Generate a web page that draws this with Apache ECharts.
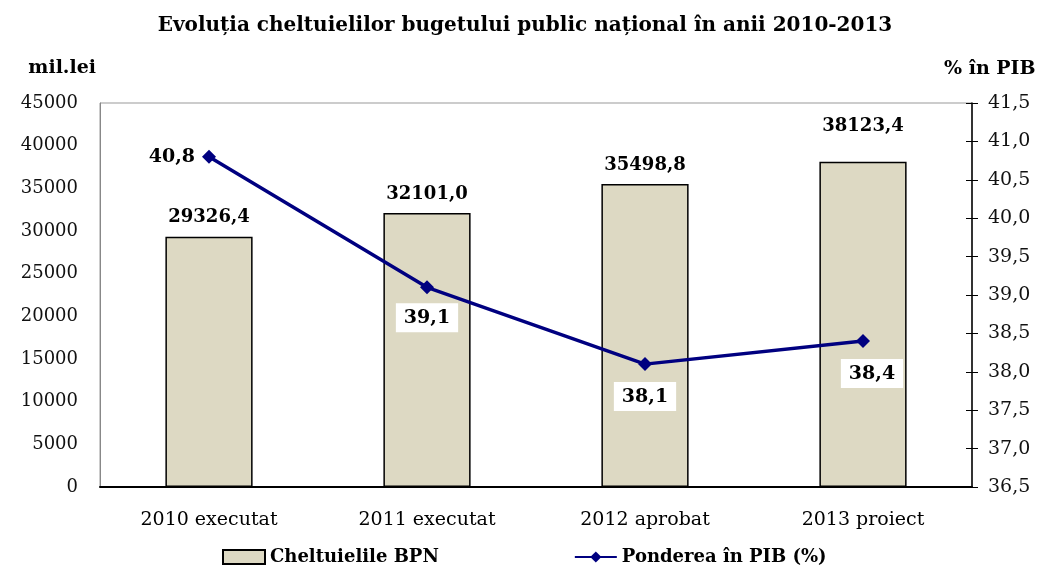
<!DOCTYPE html>
<html>
<head>
<meta charset="utf-8">
<script src="https://cdn.jsdelivr.net/npm/echarts@6/dist/echarts.min.js"></script>
<style>
html,body{margin:0;padding:0;background:#fff;}
#chart{width:1050px;height:568px;}
</style>
</head>
<body>
<div id="chart"></div>
<script>
var categories = ['2010 executat', '2011 executat', '2012 aprobat', '2013 proiect'];
var spending = [29326.4, 32101.0, 35498.8, 38123.4];
var gdpShare = [40.8, 39.1, 38.1, 38.4];
var leftTicks = {min: 0, max: 45000, interval: 5000};
var rightTicks = {min: 36.5, max: 41.5, interval: 0.5};

var serif = '"DejaVu Serif", "Liberation Serif", serif';
function comma(v, d) { return v.toFixed(d).replace('.', ','); }

var barData = spending.map(function (v, i) {
  var item = {value: v};
  if (i === 3) item.label = {offset: [0, -16]};
  return item;
});
var lineLabelPos = [
  {position: 'left', distance: 7, backgroundColor: 'transparent', padding: 0},
  {position: 'bottom', distance: 9},
  {position: 'bottom', distance: 11},
  {position: 'bottom', distance: 11, offset: [9, 0]}
];
var lineData = gdpShare.map(function (v, i) {
  return {value: v, label: lineLabelPos[i]};
});

var chart = echarts.init(document.getElementById('chart'));
chart.setOption({
  animation: false,
  title: {
    text: 'Evoluția cheltuielilor bugetului public național în anii 2010-2013',
    left: 'center', top: 11,
    textStyle: {fontFamily: serif, fontWeight: 'bold', fontSize: 20, color: '#000'}
  },
  grid: {left: 100, right: 78, top: 103, bottom: 81, show: true, borderColor: '#999', borderWidth: 1},
  legend: {
    left: 217, top: 543, itemGap: 135, itemWidth: 42, itemHeight: 14,
    textStyle: {fontFamily: serif, fontWeight: 'bold', fontSize: 18, color: '#000'},
    data: [
      {name: 'Cheltuielile BPN', icon: 'rect'},
      {name: 'Ponderea în PIB (%)'}
    ]
  },
  xAxis: {
    type: 'category', data: categories,
    axisLine: {lineStyle: {color: '#000', width: 2}},
    axisTick: {show: false},
    axisLabel: {fontFamily: serif, fontSize: 19, color: '#000', margin: 24}
  },
  yAxis: [
    {
      type: 'value', min: leftTicks.min, max: leftTicks.max, interval: leftTicks.interval,
      name: 'mil.lei', nameLocation: 'end', nameGap: 25,
      nameTextStyle: {fontFamily: serif, fontWeight: 'bold', fontSize: 19, color: '#000', align: 'right', padding: [0, 4, 0, 0]},
      axisLine: {show: true, lineStyle: {color: '#888', width: 1}},
      axisTick: {show: false},
      splitLine: {show: false},
      axisLabel: {fontFamily: serif, fontSize: 18, color: '#111', margin: 22,
        formatter: function (v) { return String(v); }}
    },
    {
      type: 'value', min: rightTicks.min, max: rightTicks.max, interval: rightTicks.interval,
      position: 'right',
      name: '% în PIB', nameLocation: 'end', nameGap: 24,
      nameTextStyle: {fontFamily: serif, fontWeight: 'bold', fontSize: 19, color: '#000', align: 'left', padding: [0, 0, 0, -28]},
      axisLine: {show: true, lineStyle: {color: '#000', width: 1.5}},
      axisTick: {show: true, inside: false, length: 6, lineStyle: {color: '#000'}},
      splitLine: {show: false},
      axisLabel: {fontFamily: serif, fontSize: 19, color: '#111', margin: 16,
        formatter: function (v) { return comma(v, 1); }}
    },
    {
      type: 'value', min: rightTicks.min, max: rightTicks.max, interval: rightTicks.interval,
      position: 'right',
      axisLine: {show: false},
      axisTick: {show: true, inside: true, length: 6, lineStyle: {color: '#000'}},
      axisLabel: {show: false},
      splitLine: {show: false}
    }
  ],
  series: [
    {
      name: 'Cheltuielile BPN', type: 'bar', yAxisIndex: 0, barWidth: '40%',
      data: barData,
      itemStyle: {color: '#DDD9C3', borderColor: '#000', borderWidth: 1.5},
      label: {show: true, position: 'top', distance: 10,
        fontFamily: serif, fontWeight: 'bold', fontSize: 18, color: '#000',
        formatter: function (p) { return comma(p.value, 1); }}
    },
    {
      name: 'Ponderea în PIB (%)', type: 'line', yAxisIndex: 1,
      data: lineData,
      symbol: 'diamond', symbolSize: 14,
      lineStyle: {color: '#000080', width: 3.5},
      itemStyle: {color: '#000080'},
      label: {show: true, fontFamily: serif, fontWeight: 'bold', fontSize: 19, color: '#000',
        backgroundColor: '#fff', padding: [5, 8],
        formatter: function (p) { return comma(p.value, 1); }}
    }
  ]
});
</script>
</body>
</html>
